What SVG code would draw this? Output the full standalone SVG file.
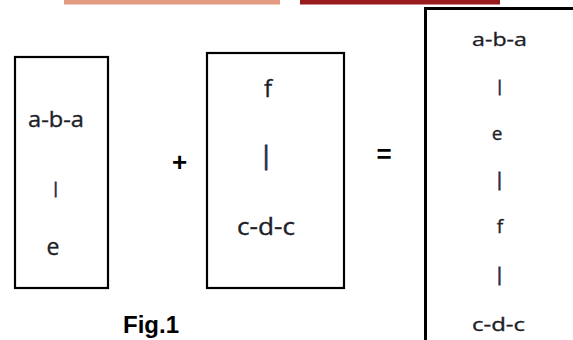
<svg xmlns="http://www.w3.org/2000/svg" width="573" height="340" viewBox="0 0 573 340">
<style>
.box{fill:none;stroke:#000;stroke-width:2.2}
.t{font-family:"Open Sans","Noto Sans",sans-serif;fill:#1e1e28;stroke:#1e1e28;stroke-width:0.35;text-anchor:middle}
.p{font-family:"Open Sans","Noto Sans",sans-serif;fill:#2a2a48;stroke:#2a2a48;stroke-width:0.8;text-anchor:middle}
.op{font-family:"Liberation Sans",Arial,sans-serif;font-weight:bold;fill:#000;text-anchor:middle}
</style>
<rect x="64" y="0" width="216" height="4.5" fill="#E39B82"/>
<rect x="300" y="0" width="200" height="4.5" fill="#981C1F"/>
<g id="left">
<rect class="box" x="15" y="57" width="93" height="231"/>
<text class="t" x="56" y="127" font-size="22" textLength="56" lengthAdjust="spacingAndGlyphs">a-b-a</text>
<text class="p" x="55.5" y="193.4" font-size="15">|</text>
<text class="t" x="53" y="255" font-size="23">e</text>
</g>
<g id="middle">
<rect class="box" x="207" y="53" width="137" height="235"/>
<text class="t" x="268" y="97" font-size="24">f</text>
<text class="p" x="266" y="164" font-size="25">|</text>
<text class="t" x="266" y="235" font-size="23" textLength="58" lengthAdjust="spacingAndGlyphs">c-d-c</text>
</g>
<g id="right">
<rect x="425.5" y="8.5" width="160" height="345" fill="none" stroke="#000" stroke-width="3"/>
<text class="t" x="499.5" y="46" font-size="19" textLength="55" lengthAdjust="spacingAndGlyphs">a-b-a</text>
<text class="p" x="499.5" y="91.4" font-size="15">|</text>
<text class="t" x="497" y="140" font-size="19">e</text>
<text class="p" x="499.5" y="185.7" font-size="18">|</text>
<text class="t" x="500" y="233" font-size="19">f</text>
<text class="p" x="499.5" y="280.7" font-size="18">|</text>
<text class="t" x="498.5" y="331" font-size="19" textLength="53" lengthAdjust="spacingAndGlyphs">c-d-c</text>
</g>
<g id="operators">
<text class="op" x="179.5" y="171" font-size="26">+</text>
<text class="op" x="384" y="163" font-size="26">=</text>
<text class="op" x="151" y="333" font-size="24">Fig.1</text>
</g>
<g id="connectors"/>
</svg>
